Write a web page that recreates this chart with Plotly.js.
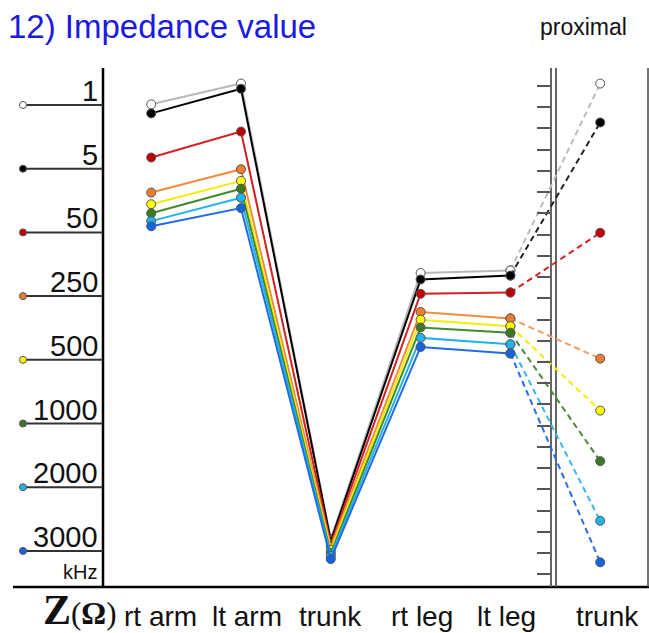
<!DOCTYPE html>
<html>
<head>
<meta charset="utf-8">
<script src="https://cdn.plot.ly/plotly-3.0.1.min.js"></script>
<style>html,body{margin:0;padding:0;background:#fff;}#chart{width:649px;height:633px;}</style>
</head>
<body>
<div id="chart"></div>
<script>
// ---- data ----
const categories = ['rt arm', 'lt arm', 'trunk', 'rt leg', 'lt leg', 'trunk'];
const freqs = ['1', '5', '50', '250', '500', '1000', '2000', '3000'];
const rtArm = [372, 365, 331, 304, 295, 288, 282, 278];
const ltArm = [388, 384, 351, 322, 313, 307, 300, 292];
const trunk = [37, 35.5, 33, 31, 28.5, 26, 24, 21.5];
const rtLeg = [242, 237, 226, 212, 206, 200, 192, 185];
const ltLeg = [244, 240, 227, 207, 201, 196, 187, 180];
const proxTrunk = [388, 358, 273, 176, 136, 97, 51, 19];

// ---- styles ----
const lineColors = ['#b8b8b8', '#000000', '#d42020', '#f58a3c', '#f2ee00', '#3f8a2a', '#22b2f0', '#1f6ae6'];
const markerColors = ['#ffffff', '#000000', '#c00000', '#ed7d31', '#ffff00', '#3b7a22', '#1fb4ee', '#1463e0'];
const dashColors = ['#bdbdbd', '#222222', '#d42020', '#f59a5c', '#f2ee00', '#4a8a34', '#36b8f0', '#2a6ae6'];

const W = 649, H = 633;
const X = px => px / W;
const Y = py => 1 - py / H;
const xs = [1, 2, 3, 4, 5];

const traces = [];
// dashed connectors (lt leg -> proximal trunk)
freqs.forEach((f, i) => {
  traces.push({
    x: [5, 6], y: [ltLeg[i], proxTrunk[i]], yaxis: 'y2',
    mode: 'lines+markers', type: 'scatter', hoverinfo: 'skip', showlegend: false,
    line: {color: dashColors[i], width: 2, dash: '6px,4px'},
    marker: {size: 9, color: markerColors[i], line: {color: '#555', width: 1}}
  });
});
// solid lines across body segments
freqs.forEach((f, i) => {
  traces.push({
    x: xs, y: [rtArm[i], ltArm[i], trunk[i], rtLeg[i], ltLeg[i]],
    mode: 'lines+markers', type: 'scatter', name: f + ' kHz', showlegend: false,
    line: {color: lineColors[i], width: 2},
    marker: {size: 9, color: markerColors[i], line: {color: '#555', width: 1}}
  });
});

const shapes = [];
const frame = (x0, y0, x1, y1, color, width) => shapes.push({
  type: 'line', xref: 'paper', yref: 'paper', x0: X(x0), x1: X(x1), y0: Y(y0), y1: Y(y1),
  line: {color: color, width: width}, layer: 'below'
});
frame(103, 68, 103, 587, '#000', 2.5);
frame(13, 587, 649, 587, '#000', 2.5);
frame(551, 68, 551, 587, '#555', 1.8);
frame(556, 68, 556, 587, '#555', 1.8);
frame(648, 68, 648, 587, '#444', 1.5);

const annotations = [];
// legend (frequency key) on the left
const legTop = 105, legStep = 63.7;
freqs.forEach((f, i) => {
  const ly = legTop + legStep * i;
  frame(23, ly, 103, ly, '#333', 2);
  shapes.push({type: 'circle', xref: 'paper', yref: 'paper',
    x0: X(19.5), x1: X(26.5), y0: Y(ly - 3.5), y1: Y(ly + 3.5),
    fillcolor: markerColors[i], line: {color: '#555', width: 1}});
  annotations.push({xref: 'paper', yref: 'paper', x: X(100), y: Y(ly + 4), xanchor: 'right', yanchor: 'bottom',
    text: f, showarrow: false, font: {family: 'Liberation Sans, Arial', size: 29, color: '#111'}});
});
annotations.push({xref: 'paper', yref: 'paper', x: X(99), y: Y(585), xanchor: 'right', yanchor: 'bottom',
  text: 'kHz', showarrow: false, font: {family: 'Liberation Sans, Arial', size: 20, color: '#111'}});

// title & proximal label
annotations.push({xref: 'paper', yref: 'paper', x: X(6), y: Y(47), xanchor: 'left', yanchor: 'bottom',
  text: '12) Impedance value', showarrow: false, font: {family: 'Liberation Sans, Arial', size: 33, color: '#1a1ae0'}});
annotations.push({xref: 'paper', yref: 'paper', x: X(583), y: Y(42), xanchor: 'center', yanchor: 'bottom',
  text: 'proximal', showarrow: false, font: {family: 'Liberation Sans, Arial', size: 23, color: '#111'}});

// category labels
const labelShift = [9, 6, 0, 1, -4, 7];
categories.forEach((c, i) => {
  annotations.push({xref: 'x', yref: 'paper', x: i + 1, xshift: labelShift[i], y: Y(634), xanchor: 'center', yanchor: 'bottom',
    text: c, showarrow: false, font: {family: 'Liberation Sans, Arial', size: 28, color: '#111'}});
});
// Z(Ω)
annotations.push({xref: 'paper', yref: 'paper', x: X(42), y: Y(634), xanchor: 'left', yanchor: 'bottom', borderpad: 0,
  text: '<span style="font-size:42px"><b>Z</b></span>(<b>Ω</b>)', showarrow: false,
  font: {family: 'Liberation Serif, Times New Roman', size: 31, color: '#111'}});

const yDom = [Y(587), Y(68)];
const layout = {
  width: W, height: H,
  margin: {l: 0, r: 0, t: 0, b: 0, pad: 0},
  paper_bgcolor: '#fff', plot_bgcolor: 'rgba(0,0,0,0)',
  showlegend: false,
  xaxis: {range: [-61.4 / 89.8, (W - 61.4) / 89.8], domain: [0, 1], visible: false, fixedrange: true},
  yaxis: {range: [0, 400], domain: yDom, visible: false, fixedrange: true},
  yaxis2: {range: [0, 400], overlaying: 'y', anchor: 'free', position: X(550), side: 'left',
    showgrid: false, zeroline: false, showline: false, showticklabels: false,
    tickmode: 'linear', tick0: 26.2, dtick: 16.36, ticks: 'outside', ticklen: 13, tickwidth: 2, tickcolor: '#555'},
  shapes: shapes,
  annotations: annotations
};

Plotly.newPlot('chart', traces, layout, {displayModeBar: false, staticPlot: true});
</script>
</body>
</html>
